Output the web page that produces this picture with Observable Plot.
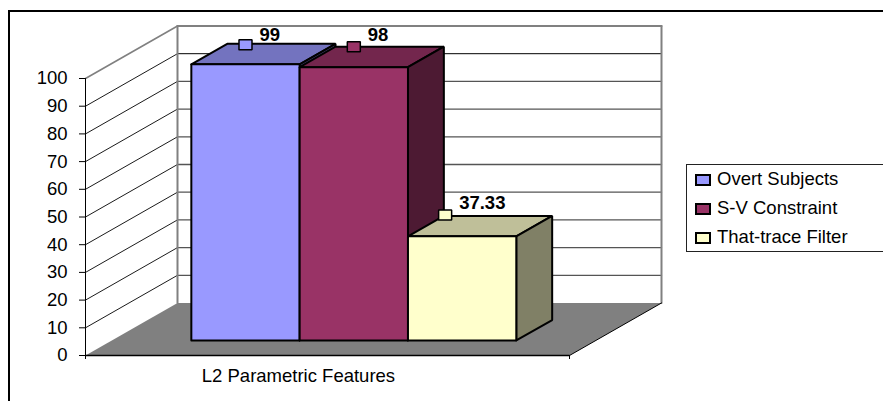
<!DOCTYPE html>
<html>
<head>
<meta charset="utf-8">
<script src="https://cdn.jsdelivr.net/npm/d3@7"></script>
<script src="https://cdn.jsdelivr.net/npm/@observablehq/plot@0.6"></script>
<style>
  html, body { margin: 0; padding: 0; background: #fff; overflow: hidden; }
  #wrap { position: relative; width: 883px; height: 401px; overflow: hidden; font-family: "Liberation Sans", Arial, sans-serif; color: #000; }
  #wrap svg { position: absolute; left: 0; top: 0; display: block; }
  #frame { position: absolute; left: 8px; top: 10px; width: 900px; height: 400px; border-top: 2px solid #000; border-left: 2px solid #000; }
  #legend { position: absolute; left: 686px; top: 164px; width: 220px; height: 86px; border: 1px solid #222; background: #fff; font-size: 18.5px; }
  .row { position: absolute; left: 8px; height: 20px; line-height: 20px; white-space: nowrap; }
  .key { position: absolute; left: 0; top: 4px; width: 12px; height: 8px; border: 2px solid #000; }
  .lab { position: absolute; left: 22px; top: -1px; }
</style>
</head>
<body>
<div id="wrap"><div id="frame"></div></div>
<script>
const category = "L2 Parametric Features";
const seriesNames = ["Overt Subjects", "S-V Constraint", "That-trace Filter"];
const seriesValues = [99, 98, 37.33];
const valueLabels = ["99", "98", "37.33"];
const yTicks = [0, 10, 20, 30, 40, 50, 60, 70, 80, 90, 100];
const frontColors = ["#9999FF", "#993366", "#FFFFCC"];
const topColors = ["#7373BF", "#73264D", "#BFBF99"];
const sideColors = ["#4D4D80", "#4D1A33", "#808066"];

// Oblique projection: depth d (0 front, 1 back wall) shifts x and y scale units.
const DX = 92 / 484, DY = 52.5 / 2.77;
const barWidth = 0.2238, barStart = (1 - 3 * barWidth) / 2;
const depthFront = 0.286, depthBack = 0.676;
const barStretch = 1.007;
const proj = (u, v, d) => ({x: u + d * DX, y: v + d * DY});
const face = (pts, fill, stroke = "#000", strokeWidth = 2) =>
  Plot.line([...pts, pts[0]], {x: "x", y: "y", fill, stroke, strokeWidth, strokeLinejoin: "miter"});
const seg = (a, b, stroke, strokeWidth) =>
  Plot.line([a, b], {x: "x", y: "y", stroke, strokeWidth});

const marks = [];

// Floor
marks.push(face([proj(0,0,0), proj(1,0,0), proj(1,0,1), proj(0,0,1)], "#808080", "none", 0));

// Walls: grid lines
for (const v of yTicks) {
  if (v === 0) continue;
  const gray = v === 100;
  marks.push(seg(proj(0,v,0), proj(0,v,1), gray ? "#808080" : "#000", gray ? 1.6 : 0.9));
  marks.push(seg(proj(0,v,1), proj(1,v,1), gray ? "#808080" : v === 90 ? "#000" : "#555", gray ? 2 : v === 90 ? 1 : 1.3));
}
marks.push(seg(proj(0,0,1), proj(0,100,1), "#808080", 2));
marks.push(seg(proj(1,0,1), proj(1,100,1), "#808080", 2));

// Floor edges
marks.push(seg(proj(0,0,0), proj(1,0,0), "#000", 1.3));
marks.push(seg(proj(1,0,0), proj(1,0,1), "#000", 1));
marks.push(seg(proj(0,0,0), proj(0,100,0), "#000", 1));

// Bars, back to front, left to right
seriesValues.forEach((val, i) => {
  const u0 = barStart + i * barWidth, u1 = u0 + barWidth, h = val * barStretch;
  marks.push(face([proj(u0,h,depthFront), proj(u1,h,depthFront), proj(u1,h,depthBack), proj(u0,h,depthBack)], topColors[i]));
  marks.push(face([proj(u1,0,depthFront), proj(u1,h,depthFront), proj(u1,h,depthBack), proj(u1,0,depthBack)], sideColors[i]));
  marks.push(face([proj(u0,0,depthFront), proj(u1,0,depthFront), proj(u1,h,depthFront), proj(u0,h,depthFront)], frontColors[i]));
});

// Data label markers and values
const labelShiftU = [0, 0, -17 / 484];
const markerLift = [-1 / 2.77, 0, 0.8 / 2.77];
const textLift = [-1 / 2.77, 1 / 2.77, 1.2 / 2.77];
const labels = seriesValues.map((val, i) => {
  const c = barStart + (i + 0.5) * barWidth + labelShiftU[i];
  const p = proj(c, val * barStretch, depthBack);
  return {x: c + depthFront * DX, y: p.y + markerLift[i], ty: p.y + markerLift[i] + textLift[i], text: valueLabels[i], i};
});
const mw = 6.5 / 484, mh = 5 / 2.77;
labels.forEach(l => {
  marks.push(face([{x:l.x-mw,y:l.y-mh},{x:l.x+mw,y:l.y-mh},{x:l.x+mw,y:l.y+mh},{x:l.x-mw,y:l.y+mh}], frontColors[l.i], "#000", 1.5));
});
marks.push(Plot.text(labels, {x: "x", y: "ty", text: "text", textAnchor: "start", dx: 14, dy: -11, fontSize: 18.5, fontWeight: "bold", fill: "#000"}));

// Axes
marks.push(Plot.axisY(yTicks, {anchor: "left", tickSize: 6, tickPadding: 12, fontSize: 18.5, label: null, stroke: "#000", strokeWidth: 1}));
marks.push(Plot.axisX([0, 1], {anchor: "bottom", tickSize: 4, tickFormat: () => "", label: null, stroke: "#000"}));
marks.push(Plot.text([category], {x: () => 0.44, y: () => 0, text: d => d, dy: 21, fontSize: 18.5, fill: "#000"}));

const chart = Plot.plot({
  width: 883, height: 401,
  marginLeft: 85, marginRight: 314, marginTop: 78, marginBottom: 46,
  x: {domain: [0, 1]},
  y: {domain: [0, 100]},
  style: {fontFamily: "'Liberation Sans', Arial, sans-serif", background: "transparent", color: "#000", overflow: "visible"},
  marks
});
const wrap = document.getElementById("wrap");
wrap.insertBefore(chart, wrap.firstChild);

// Legend
const legend = document.createElement("div");
legend.id = "legend";
seriesNames.forEach((n, i) => {
  const row = document.createElement("div");
  row.className = "row";
  row.style.top = (5 + i * 29) + "px";
  const key = document.createElement("span");
  key.className = "key";
  key.style.background = frontColors[i];
  const lab = document.createElement("span");
  lab.className = "lab";
  lab.textContent = n;
  row.append(key, lab);
  legend.append(row);
});
wrap.append(legend);
</script>
</body>
</html>
